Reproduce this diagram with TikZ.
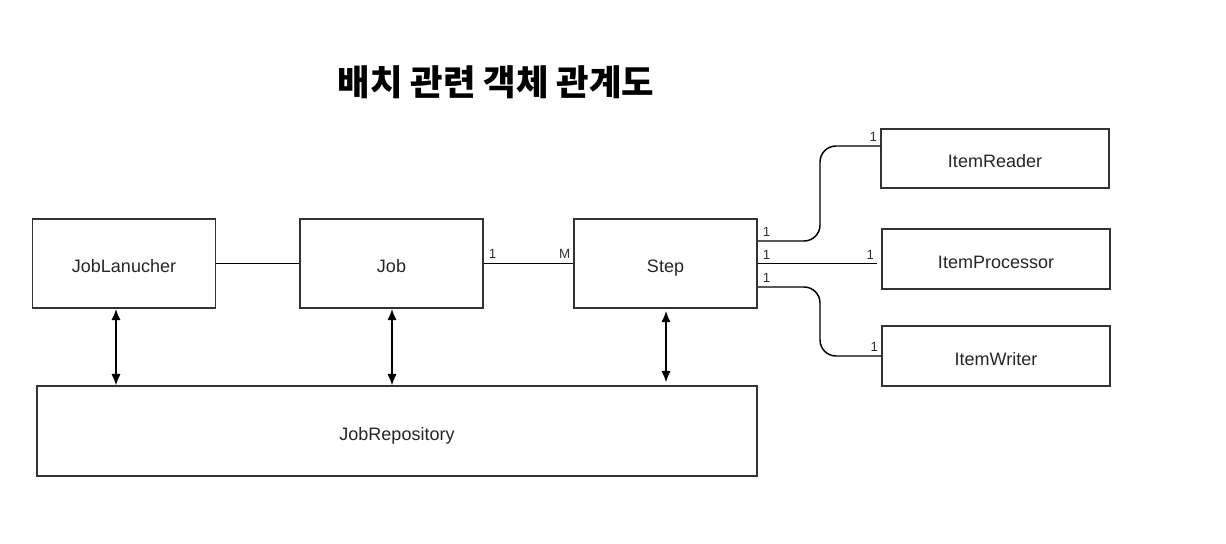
\documentclass[tikz,border=0pt]{standalone}
\usepackage{fontspec}
\setmainfont{Liberation Sans}
\newfontfamily\krfont{Noto Sans CJK KR}
\usetikzlibrary{arrows.meta,calc}
\definecolor{edge}{HTML}{333333}
\begin{document}
\begin{tikzpicture}[x=0.75pt,y=-0.75pt,
  box/.style={draw=edge,line width=1.1pt,fill=white,rectangle,inner sep=0pt,text=black!85,text height=14pt,text depth=0pt,font=\fontsize{13.5}{16}\selectfont},
  conn/.style={draw=black,line width=1.1pt},
  biarrow/.style={conn,{Latex[length=8.5pt,width=7pt]}-{Latex[length=8.5pt,width=7pt]}},
  mult/.style={font=\fontsize{10}{12}\selectfont,inner sep=0pt,text=black!80}]
\useasboundingbox (0,0) rectangle (1226,543);
\node[font=\krfont\bfseries\fontsize{26.5}{32}\selectfont] (title) at (496,82) {배치 관련 객체 관계도};
\node[box,minimum width=137pt,minimum height=67pt] (launcher) at (124,263.5) {JobLanucher};
\node[box,minimum width=137pt,minimum height=67pt] (job) at (391.5,263.5) {Job};
\node[box,minimum width=137pt,minimum height=67pt] (step) at (665.5,263.5) {Step};
\node[box,minimum width=171pt,minimum height=44.5pt] (reader) at (995,158.5) {ItemReader};
\node[box,minimum width=171pt,minimum height=45pt] (processor) at (996,259) {ItemProcessor};
\node[box,minimum width=171pt,minimum height=45pt] (writer) at (996,356) {ItemWriter};
\node[box,minimum width=540pt,minimum height=67.5pt] (repo) at (397,431) {JobRepository};
% connectors
\draw[conn] (launcher.east) -- (job.west);
\draw[conn] (job.east) -- (step.west);
\node[mult,anchor=south west] (m1) at ($(job.east)+(5,-5)$) {1};
\node[mult,anchor=south east] (m2) at ($(step.west)+(-3,-5)$) {M};
\coordinate (sr) at ($(step.east)+(0,-22.5)$);
\coordinate (sp) at (step.east);
\coordinate (sw) at ($(step.east)+(0,23.5)$);
\coordinate (rr) at ($(reader.west)+(0,-12.5)$);
\coordinate (pp) at ($(processor.west |- step.east)+(-4,0)$);
\coordinate (ww) at (writer.west);
\draw[conn,rounded corners=12pt] (sr) -| (820,200) |- (rr);
\draw[conn] (sp) -- (pp);
\draw[conn,rounded corners=12pt] (sw) -| (820,320) |- (ww);
\node[mult,anchor=south west] (l1) at ($(sr)+(5,-4)$) {1};
\node[mult,anchor=south west] (l2) at ($(sp)+(5,-4)$) {1};
\node[mult,anchor=south west] (l3) at ($(sw)+(5,-4)$) {1};
\node[mult,anchor=south east] (l4) at ($(rr)+(-3,-4)$) {1};
\node[mult,anchor=south east] (l5) at ($(pp)+(-3,-4)$) {1};
\node[mult,anchor=south east] (l6) at ($(ww)+(-3,-4)$) {1};
% arrows
\draw[biarrow] (launcher.south -| 116,0) -- (repo.north -| 116,0);
\draw[biarrow] (job.south -| 392,0) -- (repo.north -| 392,0);
\draw[biarrow] ($(step.south)+(0.5,2)$) -- ($(repo.north -| 666,0)+(0,-3)$);
\end{tikzpicture}
\end{document}
